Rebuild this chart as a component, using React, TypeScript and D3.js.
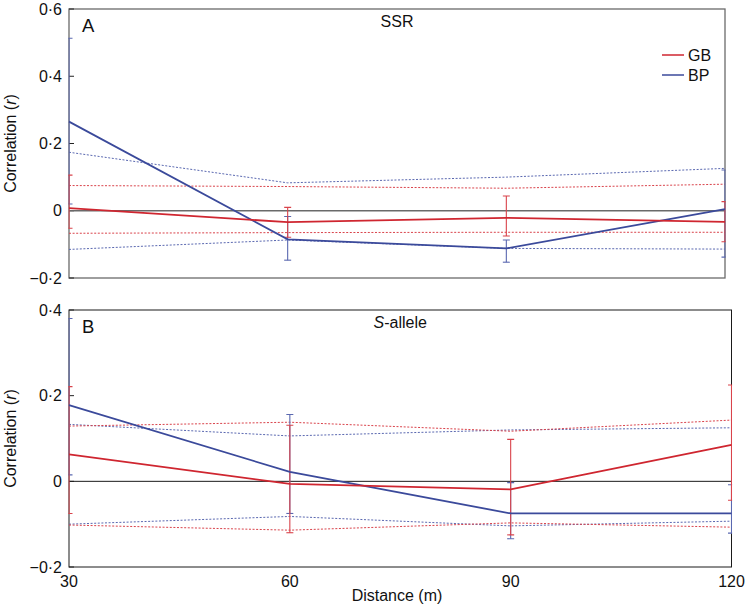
import React from "react";
import * as d3 from "d3";

const distances = [30, 60, 90, 120];

// Panel A – SSR
const ssrGB = [0.008, -0.034, -0.021, -0.033];
const ssrBP = [0.265, -0.085, -0.112, 0.005];
const ssrGBHigh = [0.106, 0.01, 0.044, 0.027];
const ssrGBLow = [-0.052, -0.079, -0.075, -0.092];
const ssrBPHigh = [0.513, -0.017, -0.087, 0.121];
const ssrBPLow = [0.02, -0.147, -0.153, -0.138];
const ssrGBNullUpper = [0.075, 0.072, 0.067, 0.079];
const ssrGBNullLower = [-0.067, -0.065, -0.064, -0.064];
const ssrBPNullUpper = [0.174, 0.083, 0.1, 0.126];
const ssrBPNullLower = [-0.115, -0.087, -0.112, -0.114];
const ssrTicks = [0.6, 0.4, 0.2, 0, -0.2];

// Panel B – S-allele
const sGB = [0.063, -0.006, -0.019, 0.085];
const sBP = [0.178, 0.022, -0.075, -0.075];
const sGBHigh = [0.221, 0.131, 0.098, 0.225];
const sGBLow = [-0.075, -0.12, -0.125, -0.044];
const sBPHigh = [0.38, 0.156, -0.003, -0.008];
const sBPLow = [0.015, -0.075, -0.134, -0.121];
const sGBNullUpper = [0.129, 0.138, 0.117, 0.143];
const sGBNullLower = [-0.102, -0.114, -0.097, -0.107];
const sBPNullUpper = [0.133, 0.106, 0.12, 0.125];
const sBPNullLower = [-0.1, -0.082, -0.104, -0.093];
const sTicks = [0.4, 0.2, 0, -0.2];

const xTickLabels = ["30", "60", "90", "120"];
const seriesNames = ["GB", "BP"];

const RED = "#cf2630";
const BLUE = "#3b4a9b";
const RED_L = "#d9434b";
const BLUE_L = "#5a68b0";
const FONT = "Liberation Sans, Arial, sans-serif";

function fmt(v: number) {
  if (v === 0) return "0";
  const s = Math.abs(v).toFixed(1).replace(".", "·");
  return (v < 0 ? "\u2212" : "") + s;
}

type PanelProps = {
  id: string;
  x0: number;
  x1: number;
  y0: number;
  y1: number;
  domain: [number, number];
  ticks: number[];
  gb: number[];
  bp: number[];
  gbHi: number[];
  gbLo: number[];
  bpHi: number[];
  bpLo: number[];
  gbNU: number[];
  gbNL: number[];
  bpNU: number[];
  bpNL: number[];
  frame: string;
  frameW: number;
  letter: string;
  title: React.ReactNode;
  legend: boolean;
  xLabels: boolean;
};

function Panel(p: PanelProps) {
  const x = d3.scaleLinear().domain([30, 120]).range([p.x0, p.x1]);
  const y = d3.scaleLinear().domain(p.domain).range([p.y1, p.y0]);
  const line = d3
    .line<number>()
    .x((_, i) => x(distances[i]))
    .y((v) => y(v));
  const clipId = "clip" + p.id;
  const errBars = (hi: number[], lo: number[], color: string) =>
    distances.map((d, i) => {
      const cx = x(d);
      return (
        <g key={i} stroke={color} strokeWidth={1.1}>
          <line x1={cx} x2={cx} y1={y(hi[i])} y2={y(lo[i])} />
          <line x1={cx - 3.5} x2={cx + 3.5} y1={y(hi[i])} y2={y(hi[i])} />
          <line x1={cx - 3.5} x2={cx + 3.5} y1={y(lo[i])} y2={y(lo[i])} />
        </g>
      );
    });
  const yMid = (p.y0 + p.y1) / 2;
  return (
    <g>
      <defs>
        <clipPath id={clipId}>
          <rect x={p.x0 - 0.6} y={p.y0} width={p.x1 - p.x0 + 1.2} height={p.y1 - p.y0} />
        </clipPath>
      </defs>
      <rect x={p.x0} y={p.y0} width={p.x1 - p.x0} height={p.y1 - p.y0} fill="none" stroke={p.frame} strokeWidth={p.frameW} />
      {p.ticks.map((t) => (
        <g key={t}>
          <line x1={p.x0} x2={p.x0 + 5} y1={y(t)} y2={y(t)} stroke="#222" strokeWidth={1} />
          <text x={62} y={y(t)} dy="0.35em" textAnchor="end" fontSize={16} fontFamily={FONT} fill="#111">
            {fmt(t)}
          </text>
        </g>
      ))}
      <text
        transform={`translate(16,${yMid}) rotate(-90)`}
        textAnchor="middle"
        fontSize={16}
        fontFamily={FONT}
        fill="#111"
      >
        Correlation (<tspan fontStyle="italic">r</tspan>)
      </text>
      <line x1={p.x0} x2={p.x1} y1={y(0)} y2={y(0)} stroke={p.frame} strokeWidth={p.frameW} />
      <g clipPath={`url(#${clipId})`} fill="none">
        <path d={line(p.bpNU) || ""} stroke={BLUE_L} strokeWidth={1} strokeDasharray="2,1.6" />
        <path d={line(p.bpNL) || ""} stroke={BLUE_L} strokeWidth={1} strokeDasharray="2,1.6" />
        <path d={line(p.gbNU) || ""} stroke={RED_L} strokeWidth={1} strokeDasharray="2,1.6" />
        <path d={line(p.gbNL) || ""} stroke={RED_L} strokeWidth={1} strokeDasharray="2,1.6" />
        {errBars(p.bpHi, p.bpLo, BLUE_L)}
        {errBars(p.gbHi, p.gbLo, RED_L)}
        <path d={line(p.bp) || ""} stroke={BLUE} strokeWidth={1.8} />
        <path d={line(p.gb) || ""} stroke={RED} strokeWidth={1.8} />
      </g>
      <text x={p.x0 + 13} y={p.y0 + 23} fontSize={18.5} fontFamily={FONT} fill="#111">
        {p.letter}
      </text>
      <text x={(p.x0 + p.x1) / 2} y={p.y0 + 18} textAnchor="middle" fontSize={16} fontFamily={FONT} fill="#111">
        {p.title}
      </text>
      {p.legend &&
        seriesNames.map((n, i) => (
          <g key={n}>
            <line x1={662} x2={684} y1={55 + i * 20} y2={55 + i * 20} stroke={i === 0 ? RED : BLUE} strokeWidth={1.5} />
            <text x={688} y={55 + i * 20} dy="0.36em" fontSize={16} fontFamily={FONT} fill="#111">
              {n}
            </text>
          </g>
        ))}
      {p.xLabels &&
        distances.map((d, i) => (
          <text key={d} x={x(d)} y={p.y1 + 20} textAnchor="middle" fontSize={16} fontFamily={FONT} fill="#111">
            {xTickLabels[i]}
          </text>
        ))}
      {p.xLabels && (
        <text x={397} y={p.y1 + 34} textAnchor="middle" fontSize={16} fontFamily={FONT} fill="#111">
          Distance (m)
        </text>
      )}
    </g>
  );
}

export default function App() {
  return (
    <svg width={746} height={605} style={{ position: "absolute", left: 0, top: 0, background: "#fff" }}>
      <rect width={746} height={605} fill="#fff" />
      <Panel
        id="A"
        x0={69}
        x1={725}
        y0={9}
        y1={278}
        domain={[-0.2, 0.6]}
        ticks={ssrTicks}
        gb={ssrGB}
        bp={ssrBP}
        gbHi={ssrGBHigh}
        gbLo={ssrGBLow}
        bpHi={ssrBPHigh}
        bpLo={ssrBPLow}
        gbNU={ssrGBNullUpper}
        gbNL={ssrGBNullLower}
        bpNU={ssrBPNullUpper}
        bpNL={ssrBPNullLower}
        frame="#6a6a6a"
        frameW={1.3}
        letter="A"
        title="SSR"
        legend={true}
        xLabels={false}
      />
      <Panel
        id="B"
        x0={69}
        x1={731.5}
        y0={310}
        y1={567}
        domain={[-0.2, 0.4]}
        ticks={sTicks}
        gb={sGB}
        bp={sBP}
        gbHi={sGBHigh}
        gbLo={sGBLow}
        bpHi={sBPHigh}
        bpLo={sBPLow}
        gbNU={sGBNullUpper}
        gbNL={sGBNullLower}
        bpNU={sBPNullUpper}
        bpNL={sBPNullLower}
        frame="#1a1a1a"
        frameW={1}
        letter="B"
        title={
          <>
            <tspan fontStyle="italic">S</tspan>-allele
          </>
        }
        legend={false}
        xLabels={true}
      />
    </svg>
  );
}
